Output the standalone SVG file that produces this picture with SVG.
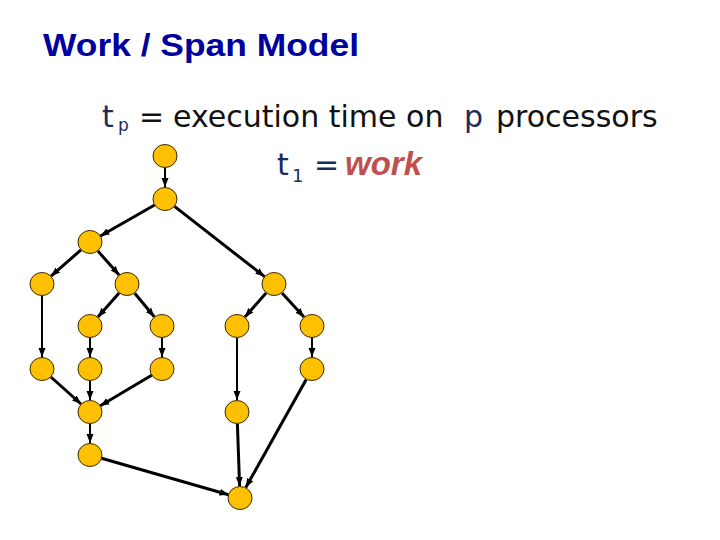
<svg xmlns="http://www.w3.org/2000/svg" width="720" height="540" viewBox="0 0 720 540">
<style>
.node{fill:#FFC000;stroke:#3A2A00;stroke-width:1}
.e{stroke:#000;fill:none;stroke-width:3;marker-end:url(#ah)}
.t{stroke-width:2}
.dj{font-family:"DejaVu Sans","Verdana",sans-serif;font-size:30px}
.navy{fill:#1B2B5E}
.blk{fill:#111}
</style>
<defs>
<marker id="ah" markerUnits="userSpaceOnUse" markerWidth="10" markerHeight="8" refX="9" refY="4" orient="auto">
<path d="M0,0.5 L9,4 L0,7.5 z" fill="#000"/>
</marker>
</defs>
<rect width="720" height="540" fill="#fff"/>
<text x="43" y="56" font-family="Liberation Sans, Arial, sans-serif" font-weight="bold" font-size="32" fill="#0000A0" textLength="316" lengthAdjust="spacingAndGlyphs">Work / Span Model</text>
<g id="line2">
<text class="dj navy" x="102" y="127">t</text>
<text class="navy" x="118" y="131" font-family="DejaVu Sans, sans-serif" font-size="17">p</text>
<text class="dj blk" x="139" y="127">=</text>
<text class="dj blk" x="173" y="127">execution time on</text>
<text class="dj navy" x="464" y="127">p</text>
<text class="dj blk" x="496" y="127">processors</text>
</g>
<g id="line3">
<text class="dj navy" x="277" y="175">t</text>
<text class="navy" x="292" y="182" font-family="DejaVu Sans, sans-serif" font-size="18">1</text>
<text class="dj navy" x="314" y="175">=</text>
<text x="345" y="175" font-family="Liberation Sans, Arial, sans-serif" font-weight="bold" font-style="italic" font-size="33" fill="#C0504D">work</text>
</g>
<g id="connectors">
<line class="e t" x1="165" y1="168" x2="165" y2="187"/>
<line class="e" x1="154.6" y1="205" x2="100.4" y2="236"/>
<line class="e" x1="174.5" y1="206.4" x2="264.5" y2="276.6"/>
<line class="e" x1="81" y1="249.9" x2="51" y2="276.1"/>
<line class="e" x1="97.9" y1="251" x2="119.1" y2="275"/>
<line class="e" x1="119.1" y1="293" x2="97.9" y2="317"/>
<line class="e" x1="134.7" y1="293.2" x2="154.3" y2="316.8"/>
<line class="e" x1="266.1" y1="293" x2="244.9" y2="317"/>
<line class="e" x1="282" y1="292.9" x2="304" y2="317.1"/>
<line class="e t" x1="42" y1="296" x2="42" y2="357"/>
<line class="e t" x1="90" y1="338" x2="90" y2="357"/>
<line class="e t" x1="162" y1="338" x2="162" y2="357"/>
<line class="e t" x1="312" y1="338" x2="312" y2="357"/>
<line class="e" x1="50.9" y1="377" x2="81.1" y2="404"/>
<line class="e t" x1="90" y1="381" x2="90" y2="400"/>
<line class="e" x1="151.7" y1="375.2" x2="100.3" y2="405.8"/>
<line class="e t" x1="90" y1="424" x2="90" y2="443"/>
<line class="e t" x1="237" y1="338" x2="237" y2="400"/>
<line class="e" x1="101.5" y1="458.3" x2="228.5" y2="494.7"/>
<line class="e" x1="237.4" y1="424" x2="239.6" y2="486"/>
<line class="e" x1="306.2" y1="379.5" x2="245.8" y2="487.5"/>
</g>
<g id="n1"><ellipse class="node" cx="165" cy="156" rx="12" ry="11.5"/></g>
<g id="n2"><ellipse class="node" cx="165" cy="199" rx="12" ry="11.5"/></g>
<g id="n3"><ellipse class="node" cx="90" cy="242" rx="12" ry="11.5"/></g>
<g id="n4"><ellipse class="node" cx="42" cy="284" rx="12" ry="11.5"/></g>
<g id="n5"><ellipse class="node" cx="127" cy="284" rx="12" ry="11.5"/></g>
<g id="n6"><ellipse class="node" cx="274" cy="284" rx="12" ry="11.5"/></g>
<g id="n7"><ellipse class="node" cx="90" cy="326" rx="12" ry="11.5"/></g>
<g id="n8"><ellipse class="node" cx="162" cy="326" rx="12" ry="11.5"/></g>
<g id="n9"><ellipse class="node" cx="237" cy="326" rx="12" ry="11.5"/></g>
<g id="n10"><ellipse class="node" cx="312" cy="326" rx="12" ry="11.5"/></g>
<g id="n11"><ellipse class="node" cx="42" cy="369" rx="12" ry="11.5"/></g>
<g id="n12"><ellipse class="node" cx="90" cy="369" rx="12" ry="11.5"/></g>
<g id="n13"><ellipse class="node" cx="162" cy="369" rx="12" ry="11.5"/></g>
<g id="n14"><ellipse class="node" cx="312" cy="369" rx="12" ry="11.5"/></g>
<g id="n15"><ellipse class="node" cx="90" cy="412" rx="12" ry="11.5"/></g>
<g id="n16"><ellipse class="node" cx="237" cy="412" rx="12" ry="11.5"/></g>
<g id="n17"><ellipse class="node" cx="90" cy="455" rx="12" ry="11.5"/></g>
<g id="n18"><ellipse class="node" cx="240" cy="498" rx="12" ry="11.5"/></g>
</svg>
